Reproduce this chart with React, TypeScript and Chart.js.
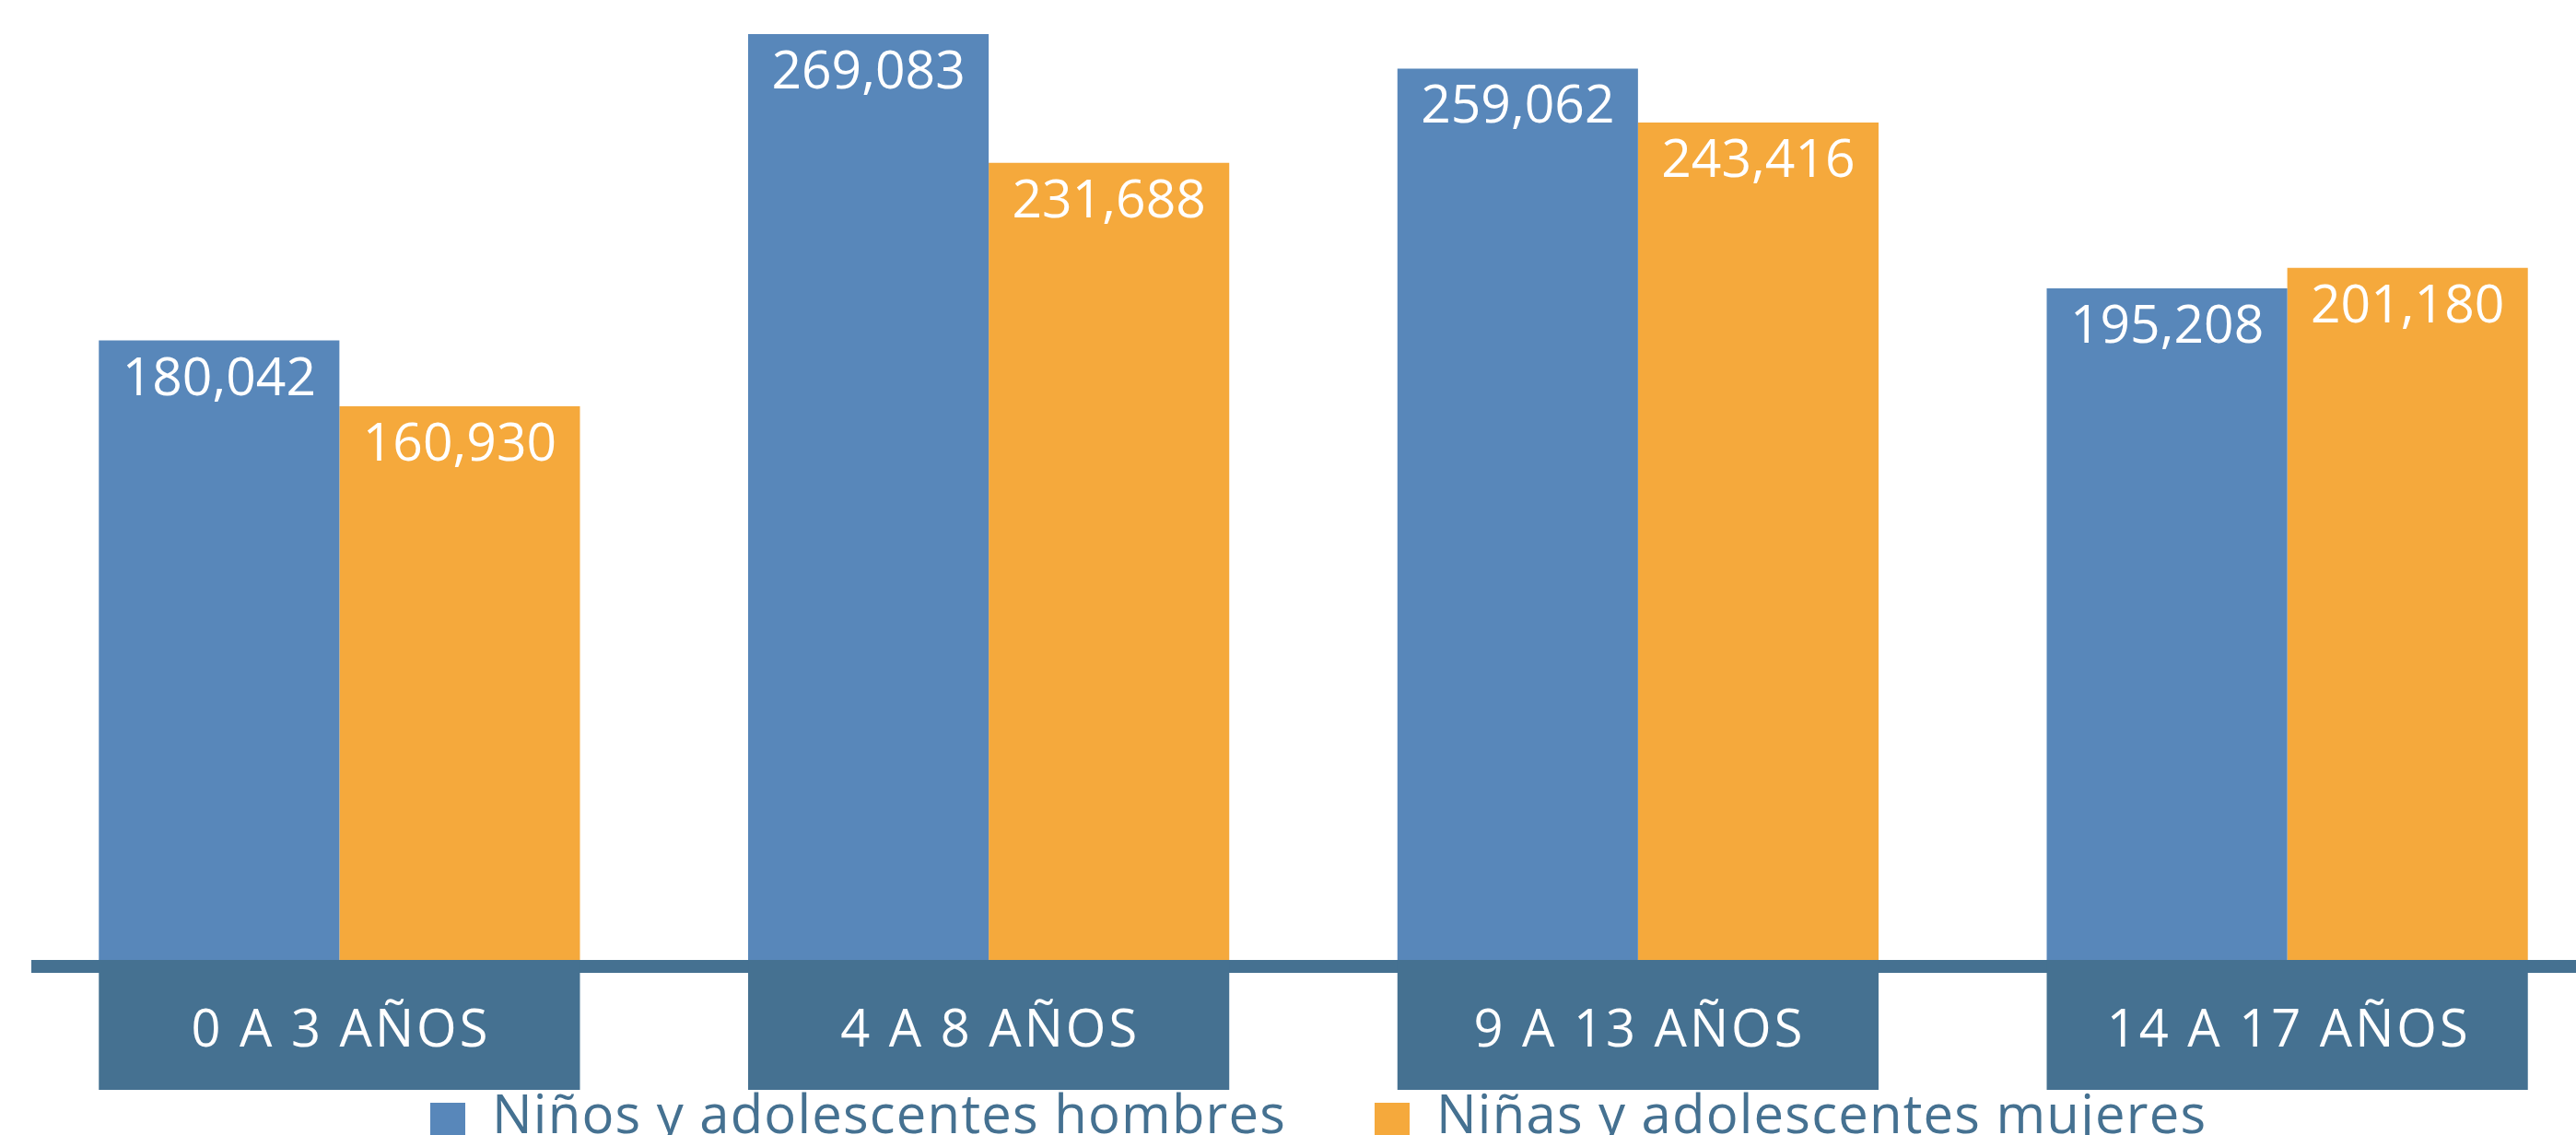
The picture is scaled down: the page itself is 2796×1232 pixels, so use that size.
import React, { useEffect, useRef } from "react";
import { Chart, registerables } from "chart.js";

Chart.register(...registerables);

const categories = ["0 A 3 AÑOS", "4 A 8 AÑOS", "9 A 13 AÑOS", "14 A 17 AÑOS"];
const boysLabel = "Niños y adolescentes hombres";
const girlsLabel = "Niñas y adolescentes mujeres";
const boysValues = [180042, 269083, 259062, 195208];
const girlsValues = [160930, 231688, 243416, 201180];

const BLUE = "#5887BA";
const ORANGE = "#F5A93C";
const DARK = "#457191";
const FONT = '"Open Sans", sans-serif';

const decorPlugin = {
  id: "decor",
  afterDatasetsDraw(chart: any) {
    const ctx = chart.ctx;
    const area = chart.chartArea;
    const m0 = chart.getDatasetMeta(0);
    const m1 = chart.getDatasetMeta(1);
    const base = area.bottom;
    ctx.save();
    // axis line
    ctx.fillStyle = DARK;
    ctx.fillRect(34, base, chart.width - 34, 14);
    // category boxes
    categories.forEach((cat, i) => {
      const b = m0.data[i];
      const g = m1.data[i];
      const left = b.x - b.width / 2;
      const right = g.x + g.width / 2;
      ctx.fillStyle = DARK;
      ctx.fillRect(left, base, right - left, 141);
      ctx.fillStyle = "#ffffff";
      ctx.font = `400 56px ${FONT}`;
      ctx.letterSpacing = "3px";
      ctx.textAlign = "center";
      ctx.textBaseline = "alphabetic";
      ctx.fillText(cat, (left + right) / 2 + 1.5, base + 94);
    });
    ctx.letterSpacing = "0px";
    // value labels
    [m0, m1].forEach((meta: any, di: number) => {
      const vals = chart.data.datasets[di].data;
      meta.data.forEach((el: any, i: number) => {
        ctx.fillStyle = "#ffffff";
        ctx.font = `400 57px ${FONT}`;
        ctx.textAlign = "center";
        ctx.textBaseline = "alphabetic";
        ctx.fillText(Number(vals[i]).toLocaleString("en-US"), el.x, el.y + 59);
      });
    });
    // legend
    const legendItems = [
      { x: 467, color: chart.data.datasets[0].backgroundColor, text: chart.data.datasets[0].label },
      { x: 1492, color: chart.data.datasets[1].backgroundColor, text: chart.data.datasets[1].label },
    ];
    legendItems.forEach((it) => {
      ctx.fillStyle = it.color;
      ctx.fillRect(it.x, 1197, 38, 38);
      ctx.fillStyle = DARK;
      ctx.font = `400 58px ${FONT}`;
      ctx.letterSpacing = "1.2px";
      ctx.textAlign = "left";
      ctx.textBaseline = "alphabetic";
      ctx.fillText(it.text, it.x + 67, 1230);
    });
    ctx.restore();
  },
};

export default function App() {
  const ref = useRef<HTMLCanvasElement | null>(null);
  useEffect(() => {
    if (!ref.current) return;
    const chart = new Chart(ref.current, {
      type: "bar",
      data: {
        labels: categories,
        datasets: [
          { label: boysLabel, data: boysValues, backgroundColor: BLUE, borderWidth: 0 },
          { label: girlsLabel, data: girlsValues, backgroundColor: ORANGE, borderWidth: 0 },
        ],
      },
      options: {
        animation: false,
        responsive: false,
        devicePixelRatio: 1,
        layout: { padding: { left: 16, right: 5, top: 0, bottom: 190 } },
        datasets: { bar: { categoryPercentage: 0.741, barPercentage: 1.0 } },
        plugins: { legend: { display: false }, tooltip: { enabled: false }, title: { display: false } },
        scales: {
          x: { display: false, grid: { display: false } },
          y: { display: false, min: 0, max: 279000, grid: { display: false } },
        },
      },
      plugins: [decorPlugin],
    });
    return () => chart.destroy();
  }, []);
  return (
    <div style={{ position: "absolute", left: 0, top: 0, width: 2796, height: 1232, overflow: "hidden", background: "#fff" }}>
      <canvas ref={ref} width={2840} height={1232} style={{ display: "block" }} />
    </div>
  );
}
